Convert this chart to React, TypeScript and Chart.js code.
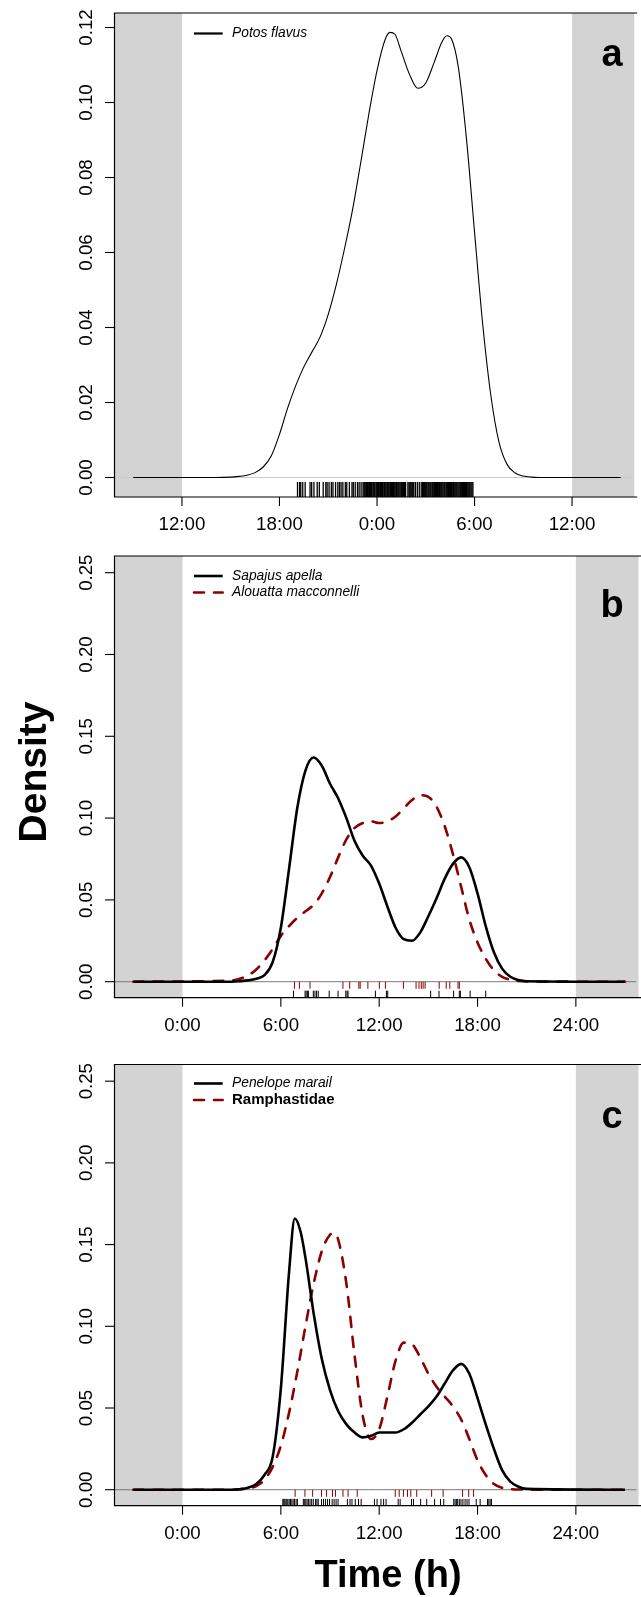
import React, { useEffect, useRef } from "react";
import { Chart, registerables } from "chart.js";

Chart.register(...registerables);

const FONT = '"Liberation Sans", Arial, Helvetica, sans-serif';
const BLACK = "#000000";
const RED = "#8b0000";
const SHADE = "#d3d3d3";
const BASE_A = "#cccccc";
const BASE_BC = "#7a7a7a";

// ---- axes ----
const xTickValues = [0, 6, 12, 18, 24];
const xTickLabelsA = ["12:00", "18:00", "0:00", "6:00", "12:00"];
const xTickLabelsBC = ["0:00", "6:00", "12:00", "18:00", "24:00"];
const yTickValuesA = [0, 0.02, 0.04, 0.06, 0.08, 0.1, 0.12];
const yTickLabelsA = ["0.00", "0.02", "0.04", "0.06", "0.08", "0.10", "0.12"];
const yTickValuesBC = [0, 0.05, 0.1, 0.15, 0.2, 0.25];
const yTickLabelsBC = ["0.00", "0.05", "0.10", "0.15", "0.20", "0.25"];
const shadeEdges = [0, 24];
const X_MIN = -4.15;
const X_MAX = 27.7;

// ---- panel a: Potos flavus (x = hours after 12:00) ----
const hoursA = [-3, 2, 3, 3.5, 4, 4.5, 5, 5.5, 6, 6.5, 7, 7.5, 8, 8.5, 9, 9.5, 10, 10.5, 11, 11.5, 12, 12.5, 12.8, 13.1, 13.5, 14, 14.5, 15, 15.5, 16, 16.3, 16.6, 17, 17.5, 18, 18.5, 19, 19.5, 20, 20.5, 21, 21.5, 22, 27];
const densPotos = [0, 0, 0.0001, 0.0003, 0.0006, 0.0013, 0.0028, 0.0058, 0.0115, 0.0185, 0.0245, 0.0295, 0.0335, 0.0375, 0.0435, 0.0515, 0.061, 0.0715, 0.084, 0.097, 0.1085, 0.1168, 0.1187, 0.1182, 0.1135, 0.1075, 0.1038, 0.1052, 0.1105, 0.1162, 0.1178, 0.1168, 0.1095, 0.0905, 0.0655, 0.041, 0.022, 0.0095, 0.0035, 0.0012, 0.0004, 0.0001, 0, 0];
const rugPotos = [7.11, 7.24, 7.31, 7.43, 7.58, 7.88, 7.98, 8.12, 8.32, 8.45, 8.69, 8.85, 8.93, 9.05, 9.19, 9.29, 9.45, 9.59, 9.69, 9.79, 9.9, 10.05, 10.14, 10.3, 10.46, 10.54, 10.66, 10.8, 10.9, 11.02, 11.14,
  11.2, 11.25, 11.31, 11.36, 11.42, 11.49, 11.53, 11.6, 11.66, 11.7, 11.77, 11.83, 11.88, 11.95, 12.0, 12.04, 12.1, 12.17, 12.21, 12.27, 12.33, 12.38, 12.45, 12.5, 12.55, 12.61, 12.66, 12.72, 12.79, 12.83, 12.9, 12.95, 13.01, 13.06, 13.12, 13.19, 13.24, 13.3, 13.35, 13.41, 13.47, 13.52, 13.58, 13.64, 13.7, 13.76, 13.9, 13.97, 14.02, 14.08, 14.14, 14.2, 14.26, 14.36, 14.48, 14.6, 14.72, 14.8, 14.86, 14.91, 14.97, 15.03, 15.08, 15.15, 15.2, 15.26, 15.31, 15.38, 15.43, 15.49, 15.55, 15.6, 15.66, 15.72, 15.77, 15.84, 15.89, 15.95, 16.0, 16.06, 16.12, 16.17, 16.24, 16.29, 16.35, 16.4, 16.47, 16.52, 16.58, 16.63, 16.7, 16.75, 16.81, 16.87, 16.92, 16.98, 17.04, 17.1, 17.15, 17.21, 17.27, 17.33, 17.38, 17.44, 17.5, 17.55, 17.61, 17.67, 17.72, 17.78, 17.84, 17.9];

// ---- panel b: Sapajus apella / Alouatta macconnelli ----
const hoursB = [-3, 3, 3.5, 4, 4.5, 5, 5.5, 6, 6.5, 7, 7.5, 8, 8.5, 9, 9.5, 10, 10.5, 11, 11.5, 12, 12.5, 13, 13.5, 14, 14.5, 15, 15.5, 16, 16.5, 17, 17.5, 18, 18.5, 19, 19.5, 20, 20.5, 21, 27];
const densSapajus = [0, 0, 0.0003, 0.0008, 0.0018, 0.004, 0.012, 0.033, 0.069, 0.106, 0.129, 0.137, 0.132, 0.121, 0.112, 0.1, 0.086, 0.077, 0.071, 0.06, 0.046, 0.033, 0.026, 0.025, 0.03, 0.04, 0.051, 0.063, 0.072, 0.076, 0.07, 0.054, 0.034, 0.018, 0.008, 0.003, 0.001, 0.0003, 0];
const densAlouatta = [0, 0.0008, 0.0018, 0.0038, 0.0075, 0.013, 0.02, 0.028, 0.034, 0.039, 0.043, 0.047, 0.054, 0.064, 0.076, 0.087, 0.094, 0.097, 0.098, 0.097, 0.098, 0.101, 0.106, 0.111, 0.114, 0.113, 0.107, 0.095, 0.078, 0.058, 0.038, 0.024, 0.014, 0.007, 0.003, 0.0012, 0.0004, 0.0001, 0];
const rugAlouatta = [6.83, 7.13, 7.78, 9.79, 10.2, 10.76, 10.84, 11.31, 12.01, 12.38, 13.48, 14.25, 14.43, 14.57, 14.68, 14.8, 15.66, 16.09, 16.31, 16.81, 16.89];
const rugSapajus = [6.77, 7.48, 7.54, 7.62, 7.68, 7.98, 8.08, 8.18, 8.28, 8.95, 9.49, 9.96, 10.04, 10.1, 11.77, 12.44, 12.52, 15.14, 15.65, 16.54, 16.89, 16.95, 17.55, 18.5];

// ---- panel c: Penelope marail / Ramphastidae ----
const hoursPenelope = [-3, 3, 3.5, 4, 4.5, 5, 5.5, 6, 6.5, 6.85, 7.2, 7.5, 8, 8.5, 9, 9.5, 10, 10.5, 11, 11.5, 12, 12.5, 13, 13.5, 14, 14.5, 15, 15.5, 16, 16.5, 17, 17.5, 18, 18.5, 19, 19.5, 20, 20.5, 21, 27];
const densPenelope = [0, 0, 0.0003, 0.0012, 0.0035, 0.009, 0.02, 0.062, 0.133, 0.166, 0.158, 0.142, 0.108, 0.08, 0.061, 0.048, 0.04, 0.035, 0.032, 0.033, 0.035, 0.035, 0.035, 0.037, 0.041, 0.046, 0.051, 0.057, 0.065, 0.073, 0.077, 0.071, 0.056, 0.04, 0.025, 0.012, 0.005, 0.0018, 0.0005, 0];
const hoursRamph = [-3, 3, 3.5, 4, 4.5, 5, 5.5, 6, 6.5, 7, 7.5, 8, 8.5, 9, 9.25, 9.5, 10, 10.5, 11, 11.5, 12, 12.5, 13, 13.5, 14, 14.5, 15, 15.5, 16, 16.5, 17, 17.5, 18, 18.5, 19, 19.5, 20, 20.5, 27];
const densRamph = [0, 0, 0.0003, 0.0008, 0.0022, 0.006, 0.014, 0.027, 0.047, 0.072, 0.1, 0.126, 0.146, 0.156, 0.157, 0.153, 0.126, 0.082, 0.045, 0.031, 0.037, 0.057, 0.079, 0.09, 0.089, 0.081, 0.071, 0.063, 0.057, 0.051, 0.043, 0.031, 0.018, 0.009, 0.0035, 0.0012, 0.0004, 0.0001, 0];
const rugRamph = [6.87, 7.47, 7.94, 8.48, 8.79, 9.15, 9.33, 9.79, 10.1, 10.66, 12.98, 13.22, 13.48, 13.73, 13.93, 14.29, 15.2, 15.9, 17.09, 17.46, 17.76];
const rugPenelope = [6.12, 6.18, 6.24, 6.31, 6.37, 6.43, 6.51, 6.59, 6.67, 6.75, 6.83, 6.93, 7.01, 7.37, 7.43, 7.52, 7.6, 7.68, 7.78, 7.88, 7.98, 8.12, 8.2, 8.28, 8.48, 8.6, 8.72, 8.85, 8.97, 9.13, 9.25, 9.37, 9.49, 10.06, 10.22, 10.34, 10.54, 10.74, 10.9, 11.71, 11.87, 12.11, 12.27, 12.42, 13.16, 13.28, 13.97, 14.09, 14.53, 14.9, 15.38, 15.74, 15.94, 16.55, 16.63, 16.71, 16.79, 16.89, 16.99, 17.11, 17.24, 17.36, 17.48, 17.92, 18.16, 18.61, 18.69, 18.77, 18.85];

type Series = { x: number[]; y: number[]; color: string; width: number; dash: number[] };
type Rug = { x: number[]; y: number; r: number; color: string; w: number };
type LegendEntry = { label: string; color: string; dash: number[]; width: number; font: string };
type Extra = { text: string; x: number; y: number; rotate: boolean; font: string };
type Panel = {
  letter: string; letterDy: number; top: number; height: number; boxTop: number; boxBottom: number;
  yMin: number; yMax: number; yTicks: number[]; yLabels: string[]; xLabels: string[];
  baseColor: string; legend: LegendEntry[]; legendDy: number[]; series: Series[]; rugs: Rug[]; extras: Extra[];
};

const panels: Panel[] = [
  {
    letter: "a", letterDy: 53, top: 0, height: 540, boxTop: 13, boxBottom: 497,
    yMin: -0.0052, yMax: 0.12387, yTicks: yTickValuesA, yLabels: yTickLabelsA, xLabels: xTickLabelsA,
    baseColor: BASE_A,
    legend: [{ label: "Potos flavus", color: BLACK, dash: [], width: 2.2, font: `italic 13.8px ${FONT}` }],
    legendDy: [20.5],
    series: [{ x: hoursA, y: densPotos, color: BLACK, width: 1.1, dash: [] }],
    rugs: [{ x: rugPotos, y: -0.0032, r: 7.5, color: BLACK, w: 1.3 }],
    extras: [],
  },
  {
    letter: "b", letterDy: 61, top: 540, height: 520, boxTop: 556, boxBottom: 997.7,
    yMin: -0.00978, yMax: 0.2602, yTicks: yTickValuesBC, yLabels: yTickLabelsBC, xLabels: xTickLabelsBC,
    baseColor: BASE_BC,
    legend: [
      { label: "Sapajus apella", color: BLACK, dash: [], width: 2.6, font: `italic 13.8px ${FONT}` },
      { label: "Alouatta macconnelli", color: RED, dash: [10, 10], width: 2.6, font: `italic 13.8px ${FONT}` },
    ],
    legendDy: [20, 36.5],
    series: [
      { x: hoursB, y: densAlouatta, color: RED, width: 2.6, dash: [10, 10] },
      { x: hoursB, y: densSapajus, color: BLACK, width: 2.6, dash: [] },
    ],
    rugs: [
      { x: rugAlouatta, y: -0.0022, r: 3.5, color: RED, w: 1 },
      { x: rugSapajus, y: -0.0075, r: 3.3, color: BLACK, w: 1 },
    ],
    extras: [{ text: "Density", x: 35, y: 772, rotate: true, font: `bold 39px ${FONT}` }],
  },
  {
    letter: "c", letterDy: 63, top: 1060, height: 537, boxTop: 1064, boxBottom: 1505.7,
    yMin: -0.00978, yMax: 0.2602, yTicks: yTickValuesBC, yLabels: yTickLabelsBC, xLabels: xTickLabelsBC,
    baseColor: BASE_BC,
    legend: [
      { label: "Penelope marail", color: BLACK, dash: [], width: 2.6, font: `italic 13.8px ${FONT}` },
      { label: "Ramphastidae", color: RED, dash: [10, 10], width: 2.6, font: `bold 15px ${FONT}` },
    ],
    legendDy: [19, 35.5],
    series: [
      { x: hoursRamph, y: densRamph, color: RED, width: 2.6, dash: [10, 10] },
      { x: hoursPenelope, y: densPenelope, color: BLACK, width: 2.6, dash: [] },
    ],
    rugs: [
      { x: rugRamph, y: -0.0022, r: 3.5, color: RED, w: 1 },
      { x: rugPenelope, y: -0.0077, r: 3.4, color: BLACK, w: 1 },
    ],
    extras: [{ text: "Time (h)", x: 388, y: 1577, rotate: false, font: `bold 38px ${FONT}` }],
  },
];

function makePlugin(p: Panel) {
  return {
    id: "rstyle" + p.letter,
    beforeDatasetsDraw(chart: any) {
      const { ctx, chartArea } = chart;
      const xs = chart.scales.x;
      const { left, right, top, bottom } = chartArea;
      const xa = xs.getPixelForValue(shadeEdges[0]);
      const xb = xs.getPixelForValue(shadeEdges[1]);
      ctx.save();
      ctx.fillStyle = SHADE;
      ctx.fillRect(left, top, xa - left, bottom - top);
      ctx.fillRect(xb, top, right - xb + 2, bottom - top);
      ctx.restore();
    },
    afterDatasetsDraw(chart: any) {
      const { ctx, chartArea } = chart;
      const xs = chart.scales.x;
      const ys = chart.scales.y;
      const { left, right, top, bottom } = chartArea;
      ctx.save();
      // box (right side falls outside the picture)
      ctx.strokeStyle = BLACK;
      ctx.lineWidth = 1.2;
      ctx.setLineDash([]);
      ctx.beginPath();
      ctx.moveTo(right + 5, top);
      ctx.lineTo(left, top);
      ctx.lineTo(left, bottom);
      ctx.lineTo(right + 5, bottom);
      ctx.stroke();
      // x axis
      ctx.lineWidth = 1.1;
      ctx.fillStyle = BLACK;
      ctx.font = `18.7px ${FONT}`;
      ctx.textAlign = "center";
      ctx.textBaseline = "middle";
      xTickValues.forEach((v, i) => {
        const px = xs.getPixelForValue(v);
        ctx.beginPath();
        ctx.moveTo(px, bottom);
        ctx.lineTo(px, bottom + 9);
        ctx.stroke();
        ctx.fillText(p.xLabels[i], px, bottom + 28);
      });
      // y axis
      p.yTicks.forEach((v, i) => {
        const py = ys.getPixelForValue(v);
        ctx.beginPath();
        ctx.moveTo(left - 9.5, py);
        ctx.lineTo(left, py);
        ctx.stroke();
        ctx.save();
        ctx.translate(87, py);
        ctx.rotate(-Math.PI / 2);
        ctx.fillText(p.yLabels[i], 0, 0);
        ctx.restore();
      });
      // legend
      p.legend.forEach((e, i) => {
        const ly = top + p.legendDy[i];
        ctx.save();
        ctx.strokeStyle = e.color;
        ctx.lineWidth = e.width;
        ctx.lineCap = e.dash.length ? "round" : "butt";
        ctx.setLineDash(e.dash);
        ctx.beginPath();
        ctx.moveTo(194, ly);
        ctx.lineTo(222.7, ly);
        ctx.stroke();
        ctx.restore();
        ctx.font = e.font;
        ctx.textAlign = "left";
        ctx.textBaseline = "middle";
        ctx.fillStyle = BLACK;
        ctx.fillText(e.label, 232, ly);
      });
      // panel letter
      ctx.font = `bold 38px ${FONT}`;
      ctx.textAlign = "center";
      ctx.textBaseline = "alphabetic";
      ctx.fillText(p.letter, 612, top + p.letterDy);
      // extra titles
      p.extras.forEach((t) => {
        ctx.save();
        ctx.font = t.font;
        ctx.textAlign = "center";
        ctx.textBaseline = "middle";
        ctx.translate(t.x, t.y - p.top);
        if (t.rotate) ctx.rotate(-Math.PI / 2);
        ctx.fillText(t.text, 0, 0);
        ctx.restore();
      });
      ctx.restore();
    },
  };
}

function PanelChart({ p }: { p: Panel }) {
  const ref = useRef<HTMLCanvasElement>(null);
  useEffect(() => {
    const canvas = ref.current;
    if (!canvas) return;
    const datasets: any[] = [];
    datasets.push({
      type: "line",
      data: [{ x: X_MIN, y: 0 }, { x: X_MAX, y: 0 }],
      borderColor: p.baseColor,
      borderWidth: 1,
      pointRadius: 0,
      order: 10,
    });
    p.series.forEach((s, i) => {
      datasets.push({
        type: "line",
        data: s.x.map((h, j) => ({ x: h, y: s.y[j] })),
        borderColor: s.color,
        borderWidth: s.width,
        borderDash: s.dash,
        borderCapStyle: s.dash.length ? "round" : "butt",
        borderJoinStyle: "round",
        cubicInterpolationMode: "monotone",
        pointRadius: 0,
        fill: false,
        order: 5 - i,
      });
    });
    p.rugs.forEach((r) => {
      datasets.push({
        type: "scatter",
        data: r.x.map((h) => ({ x: h, y: r.y })),
        showLine: false,
        pointStyle: "line",
        pointRotation: 90,
        pointRadius: r.r,
        pointHoverRadius: r.r,
        pointBorderColor: r.color,
        pointBackgroundColor: r.color,
        pointBorderWidth: r.w,
        order: 0,
      });
    });
    const chart = new Chart(canvas, {
      type: "line",
      data: { datasets },
      options: {
        animation: false,
        responsive: false,
        maintainAspectRatio: false,
        devicePixelRatio: 1,
        events: [],
        layout: {
          padding: {
            left: 114.5,
            right: 0,
            top: p.boxTop - p.top,
            bottom: p.height - (p.boxBottom - p.top),
          },
        },
        plugins: { legend: { display: false }, tooltip: { enabled: false }, title: { display: false } },
        scales: {
          x: { type: "linear", min: X_MIN, max: X_MAX, display: false },
          y: { type: "linear", min: p.yMin, max: p.yMax, display: false },
        },
      },
      plugins: [makePlugin(p)],
    } as any);
    return () => chart.destroy();
  }, [p]);
  return (
    <canvas
      ref={ref}
      width={641}
      height={p.height}
      style={{ position: "absolute", left: 0, top: p.top, width: 641, height: p.height }}
    />
  );
}

export default function App() {
  return (
    <div style={{ position: "absolute", left: 0, top: 0, width: 641, height: 1597, overflow: "hidden", background: "#ffffff" }}>
      {panels.map((p) => (
        <PanelChart key={p.letter} p={p} />
      ))}
    </div>
  );
}
